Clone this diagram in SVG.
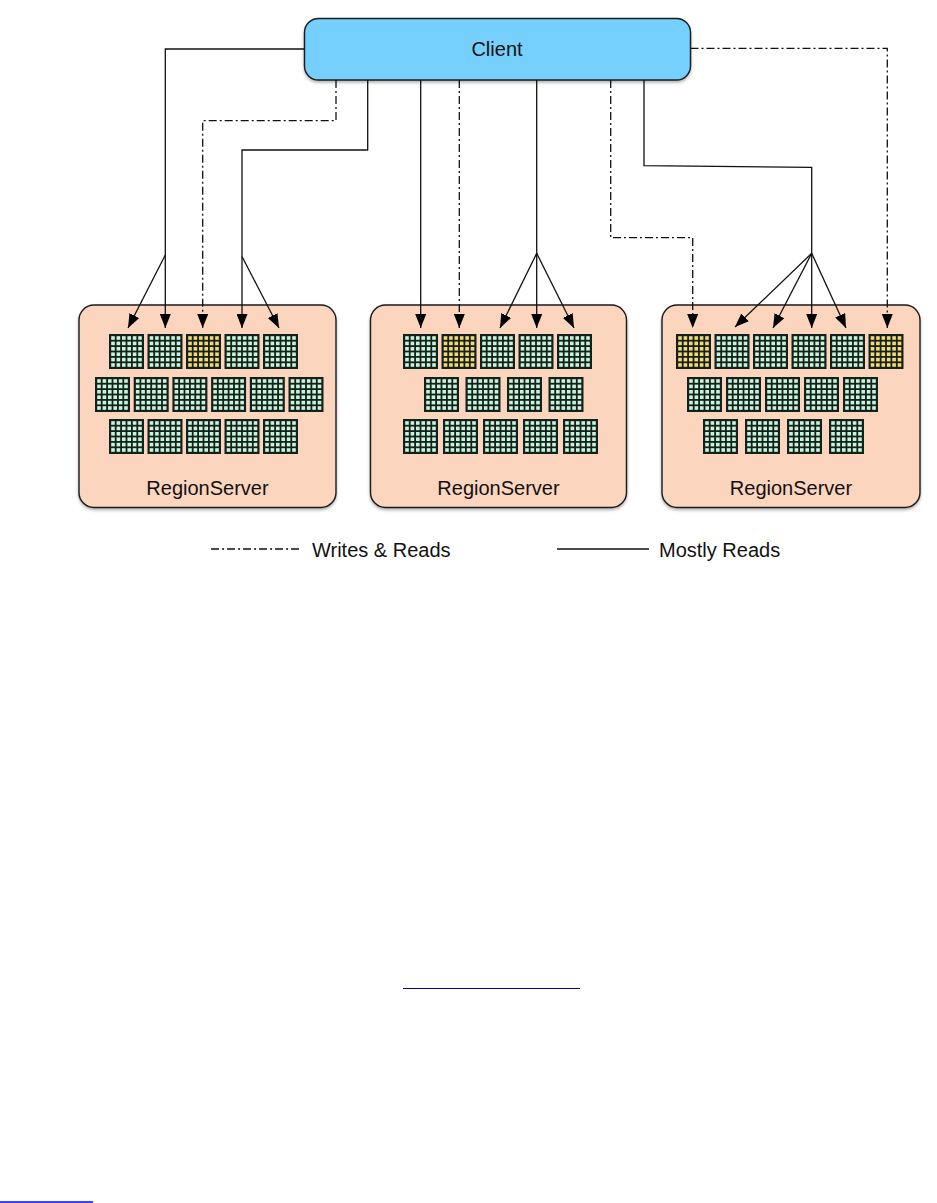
<svg xmlns="http://www.w3.org/2000/svg" xmlns:xlink="http://www.w3.org/1999/xlink" width="937" height="1203" viewBox="0 0 937 1203">
<style>
.lbl{font-family:"Liberation Sans",Arial,sans-serif;font-size:20px;fill:#111;}
.box{stroke:#1a1a1a;stroke-width:1.4;}
.client{fill:#74d0fd;}
.rs{fill:#fcd5be;}
.solid{fill:none;stroke:#111;stroke-width:1.3;}
.dd{fill:none;stroke:#111;stroke-width:1.3;stroke-dasharray:8 3 2 3;}
.g{fill:#c6f5dc;}
.y{fill:#f3da74;}
</style>
<defs>
<filter id="sh" x="-5%" y="-5%" width="110%" height="115%">
<feDropShadow dx="0" dy="2" stdDeviation="1.5" flood-color="#000" flood-opacity="0.3"/>
</filter>
<marker id="ah" viewBox="0 0 14 11" refX="14" refY="5.5" markerWidth="14" markerHeight="11" markerUnits="userSpaceOnUse" orient="auto">
<path d="M0,0 L14,5.5 L0,11 z" fill="#000"/>
</marker>
<g id="blk">
<rect x="0" y="0" width="35" height="35" fill="#16201b"/>
<rect x="2.2" y="2.2" width="3.6" height="3.6"/><rect x="7.6" y="2.2" width="3.6" height="3.6"/><rect x="13" y="2.2" width="3.6" height="3.6"/><rect x="18.4" y="2.2" width="3.6" height="3.6"/><rect x="23.8" y="2.2" width="3.6" height="3.6"/><rect x="29.2" y="2.2" width="3.6" height="3.6"/>
<rect x="2.2" y="7.6" width="3.6" height="3.6"/><rect x="7.6" y="7.6" width="3.6" height="3.6"/><rect x="13" y="7.6" width="3.6" height="3.6"/><rect x="18.4" y="7.6" width="3.6" height="3.6"/><rect x="23.8" y="7.6" width="3.6" height="3.6"/><rect x="29.2" y="7.6" width="3.6" height="3.6"/>
<rect x="2.2" y="13" width="3.6" height="3.6"/><rect x="7.6" y="13" width="3.6" height="3.6"/><rect x="13" y="13" width="3.6" height="3.6"/><rect x="18.4" y="13" width="3.6" height="3.6"/><rect x="23.8" y="13" width="3.6" height="3.6"/><rect x="29.2" y="13" width="3.6" height="3.6"/>
<rect x="2.2" y="18.4" width="3.6" height="3.6"/><rect x="7.6" y="18.4" width="3.6" height="3.6"/><rect x="13" y="18.4" width="3.6" height="3.6"/><rect x="18.4" y="18.4" width="3.6" height="3.6"/><rect x="23.8" y="18.4" width="3.6" height="3.6"/><rect x="29.2" y="18.4" width="3.6" height="3.6"/>
<rect x="2.2" y="23.8" width="3.6" height="3.6"/><rect x="7.6" y="23.8" width="3.6" height="3.6"/><rect x="13" y="23.8" width="3.6" height="3.6"/><rect x="18.4" y="23.8" width="3.6" height="3.6"/><rect x="23.8" y="23.8" width="3.6" height="3.6"/><rect x="29.2" y="23.8" width="3.6" height="3.6"/>
<rect x="2.2" y="29.2" width="3.6" height="3.6"/><rect x="7.6" y="29.2" width="3.6" height="3.6"/><rect x="13" y="29.2" width="3.6" height="3.6"/><rect x="18.4" y="29.2" width="3.6" height="3.6"/><rect x="23.8" y="29.2" width="3.6" height="3.6"/><rect x="29.2" y="29.2" width="3.6" height="3.6"/>
</g>
</defs>
<rect width="937" height="1203" fill="#fff"/>

<g id="client">
<rect class="box client" x="304.5" y="18.5" width="386" height="61.5" rx="14" filter="url(#sh)"/>
<text class="lbl" x="497" y="56" text-anchor="middle">Client</text>
</g>

<g id="rs1">
<rect class="box rs" x="79" y="305" width="257" height="202.5" rx="15" filter="url(#sh)"/>
<use xlink:href="#blk" class="g" x="109" y="334"/><use xlink:href="#blk" class="g" x="147.5" y="334"/><use xlink:href="#blk" class="y" x="186" y="334"/><use xlink:href="#blk" class="g" x="224.5" y="334"/><use xlink:href="#blk" class="g" x="263" y="334"/>
<use xlink:href="#blk" class="g" x="95" y="377"/><use xlink:href="#blk" class="g" x="133.7" y="377"/><use xlink:href="#blk" class="g" x="172.4" y="377"/><use xlink:href="#blk" class="g" x="211.1" y="377"/><use xlink:href="#blk" class="g" x="249.8" y="377"/><use xlink:href="#blk" class="g" x="288.5" y="377"/>
<use xlink:href="#blk" class="g" x="109" y="419"/><use xlink:href="#blk" class="g" x="147.5" y="419"/><use xlink:href="#blk" class="g" x="186" y="419"/><use xlink:href="#blk" class="g" x="224.5" y="419"/><use xlink:href="#blk" class="g" x="263" y="419"/>
<text class="lbl" x="207.5" y="494.5" text-anchor="middle">RegionServer</text>
</g>

<g id="rs2">
<rect class="box rs" x="370.5" y="305" width="256" height="202.5" rx="15" filter="url(#sh)"/>
<use xlink:href="#blk" class="g" x="403" y="334"/><use xlink:href="#blk" class="y" x="441.5" y="334"/><use xlink:href="#blk" class="g" x="480" y="334"/><use xlink:href="#blk" class="g" x="518.5" y="334"/><use xlink:href="#blk" class="g" x="557" y="334"/>
<use xlink:href="#blk" class="g" x="424" y="377"/><use xlink:href="#blk" class="g" x="465.5" y="377"/><use xlink:href="#blk" class="g" x="507" y="377"/><use xlink:href="#blk" class="g" x="548.5" y="377"/>
<use xlink:href="#blk" class="g" x="403" y="419"/><use xlink:href="#blk" class="g" x="443" y="419"/><use xlink:href="#blk" class="g" x="483" y="419"/><use xlink:href="#blk" class="g" x="523" y="419"/><use xlink:href="#blk" class="g" x="563" y="419"/>
<text class="lbl" x="498.5" y="494.5" text-anchor="middle">RegionServer</text>
</g>

<g id="rs3">
<rect class="box rs" x="662" y="305" width="258" height="202.5" rx="15" filter="url(#sh)"/>
<use xlink:href="#blk" class="y" x="676" y="334"/><use xlink:href="#blk" class="g" x="714.5" y="334"/><use xlink:href="#blk" class="g" x="753" y="334"/><use xlink:href="#blk" class="g" x="791.5" y="334"/><use xlink:href="#blk" class="g" x="830" y="334"/><use xlink:href="#blk" class="y" x="868.5" y="334"/>
<use xlink:href="#blk" class="g" x="687" y="377"/><use xlink:href="#blk" class="g" x="726" y="377"/><use xlink:href="#blk" class="g" x="765" y="377"/><use xlink:href="#blk" class="g" x="804" y="377"/><use xlink:href="#blk" class="g" x="843" y="377"/>
<use xlink:href="#blk" class="g" x="703" y="419"/><use xlink:href="#blk" class="g" x="745" y="419"/><use xlink:href="#blk" class="g" x="787" y="419"/><use xlink:href="#blk" class="g" x="829" y="419"/>
<text class="lbl" x="791" y="494.5" text-anchor="middle">RegionServer</text>
</g>

<g id="connectors">
<path class="solid" d="M304.5,49 H165.3 V328" marker-end="url(#ah)"/>
<path class="solid" d="M165.3,255 L128,328" marker-end="url(#ah)"/>
<path class="dd" d="M336,80 V120.7 H202.7 V328" marker-end="url(#ah)"/>
<path class="solid" d="M367.7,80 V150 H242 V328" marker-end="url(#ah)"/>
<path class="solid" d="M242,256.5 L279,328" marker-end="url(#ah)"/>
<path class="solid" d="M420.7,80 V328" marker-end="url(#ah)"/>
<path class="dd" d="M459.3,80 V328" marker-end="url(#ah)"/>
<path class="solid" d="M536.7,80 V328" marker-end="url(#ah)"/>
<path class="solid" d="M536.7,253.3 L500,328" marker-end="url(#ah)"/>
<path class="solid" d="M536.7,253.3 L574,328" marker-end="url(#ah)"/>
<path class="dd" d="M610.7,80 V237.7 H692.7 V328" marker-end="url(#ah)"/>
<path class="solid" d="M644,80 V165.7 L811.7,167.3 V328" marker-end="url(#ah)"/>
<path class="solid" d="M811.7,253.3 L735,327" marker-end="url(#ah)"/>
<path class="solid" d="M811.7,253.3 L773,328" marker-end="url(#ah)"/>
<path class="solid" d="M811.7,253.3 L846,328" marker-end="url(#ah)"/>
<path class="dd" d="M690.5,48.3 H887.3 V328" marker-end="url(#ah)"/>
</g>

<g id="legend">
<line class="dd" x1="211" y1="549" x2="300" y2="549"/>
<text class="lbl" x="312" y="557">Writes &amp; Reads</text>
<line class="solid" x1="557" y1="549" x2="649" y2="549"/>
<text class="lbl" x="659" y="557">Mostly Reads</text>
</g>

<line x1="403" y1="988.5" x2="580" y2="988.5" stroke="#0000a8" stroke-width="1.2"/>
<line x1="0" y1="1202" x2="93" y2="1202" stroke="#0000ff" stroke-width="1.5"/>
</svg>
